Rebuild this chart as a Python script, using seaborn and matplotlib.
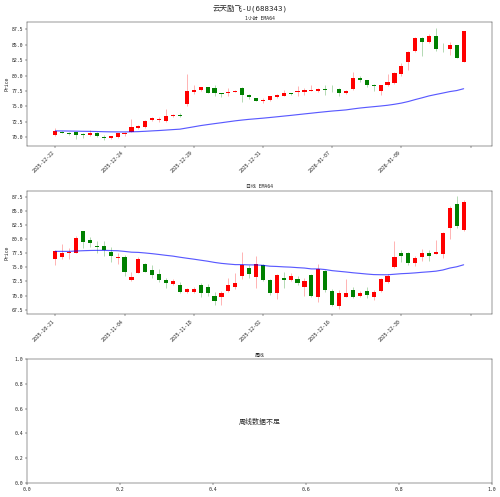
import seaborn as sns
import matplotlib
matplotlib.use("Agg")
import matplotlib.pyplot as plt
import pandas as pd

# 1 hour candles (60 bars)
hourly_open = [70.3, 70.9, 70.7, 70.8, 70.5, 70.3, 70.7, 70.0, 69.8, 69.95,
               70.5, 70.9, 71.5, 71.7, 72.7, 72.7, 72.6, 73.5, 73.6, 75.3,
               77.3, 77.6, 78.1, 77.9, 77.2, 77.1, 77.4, 77.9, 76.8, 76.4,
               75.9, 76.1, 76.5, 76.7, 77.1, 77.3, 77.4, 77.5, 77.5, 77.8,
               77.8, 77.8, 77.1, 77.8, 79.55, 79.2, 78.5, 77.5, 78.4, 78.8,
               80.3, 82.2, 83.97, 86.1, 85.5, 86.5, 84.4, 84.4, 84.9, 82.2]
hourly_high = [71.5, 71.0, 70.8, 70.9, 70.6, 71.1, 70.8, 70.4, 70.1, 70.7,
               70.9, 73.0, 72.0, 72.8, 73.3, 73.2, 74.6, 73.8, 73.9, 80.2,
               78.4, 78.2, 78.2, 78.4, 77.2, 77.9, 77.7, 78.1, 77.0, 76.4,
               76.3, 76.7, 77.0, 77.6, 77.2, 78.3, 78.0, 78.5, 77.9, 78.4,
               78.4, 77.9, 77.6, 80.6, 79.9, 79.3, 78.6, 78.5, 80.3, 80.6,
               82.0, 84.0, 86.2, 86.3, 86.7, 87.8, 85.3, 85.4, 84.9, 87.3]
hourly_low = [70.2, 70.6, 70.3, 69.6, 69.9, 70.2, 70.0, 69.5, 69.7, 69.8,
              70.2, 70.8, 71.3, 71.4, 72.6, 72.4, 72.4, 73.2, 73.3, 75.1,
              77.0, 77.5, 77.1, 76.7, 76.5, 76.6, 77.3, 75.7, 76.2, 75.9,
              75.6, 75.9, 76.4, 76.6, 76.9, 76.6, 76.9, 77.5, 77.4, 76.9,
              77.3, 76.7, 77.0, 77.6, 79.0, 78.1, 77.5, 76.9, 78.3, 78.7,
              80.0, 80.9, 83.9, 83.2, 85.3, 84.0, 83.8, 83.4, 82.9, 82.2]
hourly_close = [71.0, 70.7, 70.5, 70.3, 70.3, 70.6, 70.1, 69.85, 70.1, 70.65,
                70.6, 71.6, 71.8, 72.6, 73.1, 72.9, 73.5, 73.6, 73.5, 77.5,
                77.7, 78.1, 77.1, 77.1, 77.0, 77.4, 77.5, 76.8, 76.5, 75.9,
                76.1, 76.6, 76.8, 77.1, 77.05, 77.5, 77.6, 77.6, 77.85, 77.7,
                77.75, 77.1, 77.5, 79.55, 79.2, 78.5, 78.3, 78.45, 79.0, 80.4,
                81.6, 83.8, 86.1, 85.5, 86.4, 84.4, 84.3, 84.9, 82.9, 87.2]
hourly_ticks = ["2025-12-22", "2025-12-24", "2025-12-29", "2025-12-31",
                "2026-01-07", "2026-01-09", ""]

# daily candles (60 bars)
daily_open = [76.4, 76.9, 77.6, 77.6, 81.4, 79.9, 78.8, 78.7, 77.8, 76.6,
              76.9, 72.7, 74.05, 75.65, 74.5, 73.8, 72.8, 72.0, 71.9, 70.6,
              70.7, 71.8, 71.5, 69.9, 69.8, 70.9, 71.5, 73.5, 74.9, 73.25,
              75.4, 72.7, 70.5, 73.2, 72.8, 73.0, 71.5, 73.6, 69.8, 74.4,
              70.8, 68.1, 69.8, 71.0, 70.0, 70.8, 69.8, 70.8, 72.4, 75.0,
              77.6, 77.6, 75.8, 76.9, 77.6, 77.4, 77.3, 81.9, 86.2, 81.6]
daily_high = [78.0, 79.2, 78.4, 80.6, 81.5, 80.4, 79.7, 79.6, 78.6, 77.5,
              77.2, 74.2, 76.8, 75.8, 75.4, 74.7, 73.1, 72.9, 72.4, 71.3,
              71.5, 72.2, 72.0, 70.6, 70.8, 73.1, 74.0, 77.7, 75.4, 77.1,
              75.6, 73.0, 73.9, 74.1, 74.05, 73.5, 73.2, 73.8, 75.6, 74.6,
              71.2, 71.06, 72.96, 71.5, 70.8, 71.5, 71.0, 73.1, 73.8, 79.7,
              78.0, 77.8, 77.0, 78.3, 78.0, 79.9, 81.3, 85.9, 87.6, 86.9]
daily_low = [75.5, 76.5, 76.4, 77.5, 78.5, 78.6, 77.5, 77.1, 75.95, 75.66,
             73.4, 72.5, 74.0, 74.1, 73.2, 72.4, 71.4, 71.8, 70.5, 70.5,
             70.5, 69.8, 69.9, 68.36, 68.36, 70.7, 71.2, 72.9, 73.1, 71.35,
             72.5, 70.1, 69.45, 71.4, 72.5, 71.9, 70.0, 69.8, 68.8, 70.6,
             68.1, 67.67, 69.7, 69.5, 69.8, 69.5, 69.3, 70.7, 72.2, 74.8,
             75.95, 75.5, 75.3, 76.1, 76.2, 77.3, 76.7, 80.1, 82.0, 81.5]
daily_close = [77.84, 77.6, 77.8, 80.14, 79.45, 79.3, 78.65, 78.0, 77.0, 76.9,
               74.1, 73.36, 76.47, 74.2, 73.6, 72.8, 72.3, 72.67, 70.6, 71.1,
               71.2, 70.5, 70.5, 69.05, 70.4, 71.9, 72.2, 75.49, 73.9, 75.55,
               72.7, 70.5, 73.7, 72.8, 73.5, 72.2, 72.6, 69.9, 74.7, 71.0,
               68.4, 70.5, 70.5, 69.7, 70.5, 70.1, 70.7, 72.9, 73.4, 76.8,
               77.0, 75.7, 76.7, 77.5, 77.0, 77.8, 81.1, 85.6, 82.3, 86.6]
daily_ticks = ["2025-10-21", "2025-11-04", "2025-11-18", "2025-12-02",
               "2025-12-16", "2025-12-30", ""]

stock_title = "云天励飞-U(688343)"
ema_span = 64


def draw_candles(ax, o, h, l, c, tick_labels, title):
    df = pd.DataFrame({"open": o, "high": h, "low": l, "close": c})
    df["idx"] = range(len(df))
    df["ema"] = df["close"].ewm(span=ema_span, adjust=False).mean()
    up = df["close"] >= df["open"]
    colors = ["red" if u else "green" for u in up]

    # wicks then bodies
    ax.vlines(df["idx"], df["low"], df["high"], colors=colors, linewidth=1, alpha=0.5)
    body = (df["close"] - df["open"]).abs().clip(lower=0.06)
    bottom = df[["open", "close"]].min(axis=1)
    ax.bar(df["idx"], body, bottom=bottom, width=0.6, color=colors, linewidth=0)

    sns.lineplot(x=df["idx"], y=df["ema"], ax=ax, color="blue", alpha=0.65, linewidth=2)

    ax.set_xlim(-4.1, 63.1)
    ax.set_xticks(range(0, 61, 10))
    ax.set_xticklabels(tick_labels, rotation=45, ha="right")
    ax.set_title(title, fontsize=8.5, pad=4)
    ax.set_ylabel("Price", fontsize=8.5)
    ax.set_xlabel("")


sns.set_style("ticks")
# mono latin + CJK fallback, close to the half-width look of the original
plt.rcParams["font.family"] = ["DejaVu Sans Mono", "Noto Sans CJK SC"]
plt.rcParams["axes.unicode_minus"] = False
plt.rcParams["xtick.labelsize"] = 8.5
plt.rcParams["ytick.labelsize"] = 8.5

fig, axes = plt.subplots(3, 1, figsize=(12, 11.928))
fig.subplots_adjust(left=0.054, right=0.984, top=0.9557, bottom=0.0282, hspace=0.363)
fig.suptitle(stock_title, fontsize=13, y=0.99)

draw_candles(axes[0], hourly_open, hourly_high, hourly_low, hourly_close, hourly_ticks, "1小时 EMA64")
draw_candles(axes[1], daily_open, daily_high, daily_low, daily_close, daily_ticks, "日线 EMA64")

axes[2].set_title("周线", fontsize=8.5, pad=4)
axes[2].text(0.5, 0.5, "周线数据不足", ha="center", va="center", fontsize=12, transform=axes[2].transAxes)

plt.savefig("out.png", dpi=500 / 12)
